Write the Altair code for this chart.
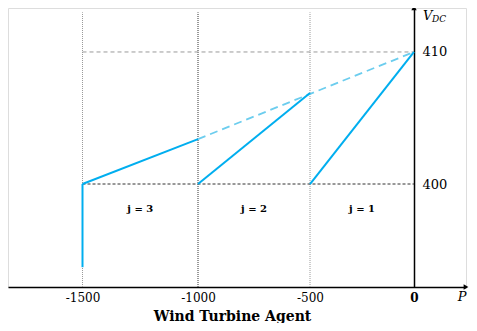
import altair as alt
import pandas as pd

# ---- data ----
x_ticks = [-1500, -1000, -500, 0]
y_ticks = [400, 410]

# solid blue droop segments (x1, y1) -> (x2, y2)
seg_x1 = [-1500, -1000, -500, -1500]
seg_y1 = [400, 400, 400, 400]
seg_x2 = [-1000, -500, 0, -1500]
seg_y2 = [403.4, 406.9, 410, 393.7]

# light dashed extension line
ext_x1 = [-1000]
ext_y1 = [403.4]
ext_x2 = [0]
ext_y2 = [410]

# vertical dotted guides
guide_x = [-1500, -1000, -500]
guide_shade = ["light", "dark", "light"]
guide_top = 413.0

# horizontal dashed reference lines
href_y = [410, 400]
href_from = -1500
href_to = 0

# agent labels
agent_x = [-1250, -750, -250]
agent_y = [398.1, 398.1, 398.1]
agent_lbl = ["j = 3", "j = 2", "j = 1"]

X_MIN, X_MAX = -1837, 235
Y_MIN, Y_MAX = 392.2, 413.33

SERIF = "DejaVu Serif"
BLUE = "#00AEEF"
LIGHTBLUE = "#6CCDEE"

W = 458
xscale = alt.Scale(domain=[X_MIN, -1500, -1000, -500, 0, X_MAX],
                   range=[0, 74.5, 190, 302, 406, W], nice=False, zero=False)
yscale = alt.Scale(domain=[Y_MIN, Y_MAX], nice=False, zero=False)

xaxis = alt.Axis(orient="bottom", values=x_ticks, ticks=False, grid=False,
                 domainColor="black", domainWidth=1.5, labelFont=SERIF,
                 labelFontSize=12, labelColor="black", labelPadding=5,
                 labelExpr="'' + datum.value",
                 labelFontWeight=alt.ExprRef("datum.value == 0 ? 'bold' : 'normal'"),
                 title="Wind Turbine Agent", titleFont=SERIF, titleFontSize=14,
                 titleFontWeight="bold", titleColor="black",
                 titleBaseline="alphabetic", titleY=33, titleX=224)
yaxis = alt.Axis(orient="right", offset=-(W - 406), values=y_ticks, ticks=False,
                 grid=False, domainColor="black", domainWidth=1.5,
                 labelFont=SERIF, labelFontSize=13, labelColor="black",
                 labelPadding=8, title=None)

X = lambda f="x": alt.X(f"{f}:Q", scale=xscale, axis=xaxis)
Y = lambda f="y": alt.Y(f"{f}:Q", scale=yscale, axis=yaxis)

guides = pd.DataFrame({"x": guide_x, "y": [Y_MIN] * 3, "y2": [guide_top] * 3,
                       "shade": guide_shade})
guide_layer = alt.Chart(guides).mark_rule(strokeDash=[1, 1], strokeWidth=1).encode(
    x=X(), y=Y(), y2="y2:Q",
    color=alt.Color("shade:N", scale=alt.Scale(domain=["light", "dark"],
                                               range=["#9a9a9a", "#333333"]),
                    legend=None))

hrefs = pd.DataFrame({"x": [href_from] * 2, "x2": [href_to] * 2, "y": href_y,
                      "kind": ["top", "base"]})
href_layer = alt.Chart(hrefs).mark_rule(strokeWidth=1).encode(
    x=X(), x2="x2:Q", y=Y(),
    color=alt.Color("kind:N", scale=alt.Scale(domain=["top", "base"],
                                              range=["#222222", "#555555"]),
                    legend=None),
    strokeDash=alt.StrokeDash("kind:N", scale=alt.Scale(domain=["top", "base"],
                                                        range=[[4, 3], [3, 2]]),
                              legend=None))

ext = pd.DataFrame({"x": ext_x1, "y": ext_y1, "x2": ext_x2, "y2": ext_y2})
ext_layer = alt.Chart(ext).mark_rule(color=LIGHTBLUE, strokeWidth=1.8,
                                     strokeDash=[8, 5]).encode(
    x=X(), y=Y(), x2="x2:Q", y2="y2:Q")

segs = pd.DataFrame({"x": seg_x1, "y": seg_y1, "x2": seg_x2, "y2": seg_y2})
seg_layer = alt.Chart(segs).mark_rule(color=BLUE, strokeWidth=2).encode(
    x=X(), y=Y(), x2="x2:Q", y2="y2:Q")

agents = pd.DataFrame({"x": agent_x, "y": agent_y, "t": agent_lbl})
agent_layer = alt.Chart(agents).mark_text(font=SERIF, fontSize=10, fontWeight="bold",
                                          color="black").encode(
    x=X(), y=Y(), text="t:N")

arrows = pd.DataFrame({"x": [X_MAX, 0], "y": [Y_MIN, Y_MAX],
                       "s": ["triangle-right", "triangle-up"]})
arrow_layer = alt.Chart(arrows).mark_point(filled=True, color="black", size=30,
                                           opacity=1).encode(
    x=X(), y=Y(),
    shape=alt.Shape("s:N", scale=alt.Scale(domain=["triangle-right", "triangle-up"],
                                           range=["triangle-right", "triangle-up"]),
                    legend=None))

vname = pd.DataFrame({"x": [0], "y": [Y_MAX], "t": ["V"]})
v_layer = alt.Chart(vname).mark_text(font=SERIF, fontSize=13, fontStyle="italic",
                                     align="left", baseline="middle", dx=9, dy=8,
                                     color="black").encode(x=X(), y=Y(), text="t:N")
sub = pd.DataFrame({"x": [0], "y": [Y_MAX], "t": ["DC"]})
sub_layer = alt.Chart(sub).mark_text(font=SERIF, fontSize=9, fontStyle="italic",
                                     align="left", baseline="middle", dx=18, dy=11,
                                     color="black").encode(x=X(), y=Y(), text="t:N")
pname = pd.DataFrame({"x": [X_MAX], "y": [Y_MIN], "t": ["P"]})
p_layer = alt.Chart(pname).mark_text(font=SERIF, fontSize=13, fontStyle="italic",
                                     align="center", baseline="middle", dx=-4, dy=10,
                                     color="black").encode(x=X(), y=Y(), text="t:N")

chart = alt.layer(guide_layer, href_layer, ext_layer, seg_layer, agent_layer,
                  arrow_layer, v_layer, sub_layer, p_layer).properties(
    width=W, height=279,
    autosize=alt.AutoSizeParams(type="none"),
    padding={"left": 0, "top": 0, "right": 3, "bottom": 36},
).configure_view(stroke=None).configure(background="white")

chart.save("out.html", embed_options={"renderer": "svg", "actions": False})
